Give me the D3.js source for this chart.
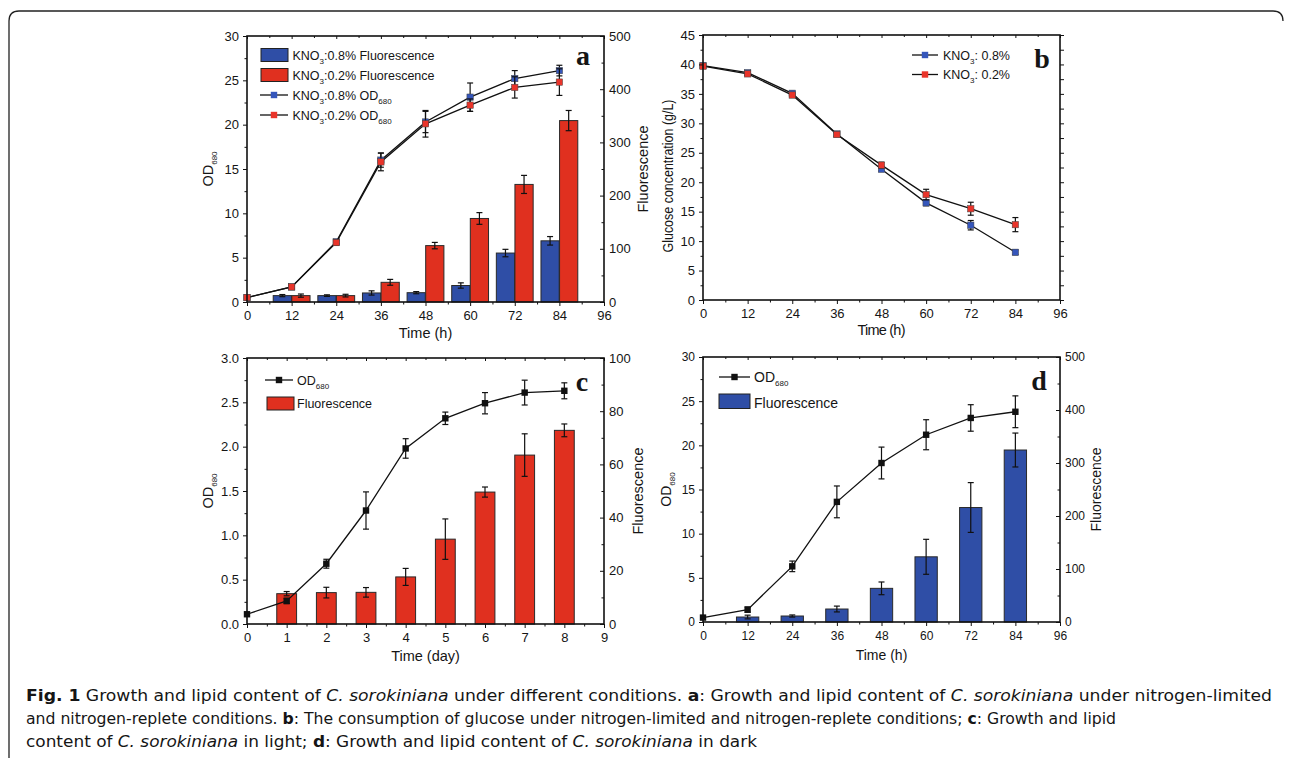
<!DOCTYPE html>
<html>
<head>
<meta charset="utf-8">
<script src="https://cdn.jsdelivr.net/npm/d3@7"></script>
<style>
  body { margin: 0; background: #fff; }
  svg { display: block; }
  text { font-family: "Liberation Sans", Arial, sans-serif; fill: #151515; }
</style>
</head>
<body>
<div id="fig"></div>
<script>
// ---------- data ----------
const hours = [0, 12, 24, 36, 48, 60, 72, 84];
const barHours = [12, 24, 36, 48, 60, 72, 84];
const days = [0, 1, 2, 3, 4, 5, 6, 7, 8];
const barDays = [1, 2, 3, 4, 5, 6, 7, 8];

// panel a: KNO3 0.8% / 0.2%
const odHigh = [0.5, 1.7, 6.8, 16.0, 20.3, 23.1, 25.2, 26.1];
const odHighErr = [0.1, 0.2, 0.2, 0.8, 1.2, 1.6, 0.9, 0.6];
const odLow = [0.5, 1.7, 6.7, 15.8, 20.1, 22.2, 24.2, 24.8];
const odLowErr = [0.1, 0.2, 0.3, 1.0, 1.5, 0.7, 1.2, 1.5];
const fluoHigh = [12, 12, 17, 17.5, 31, 92, 115];
const fluoHighErr = [2, 1.5, 4, 2, 5, 7, 8];
const fluoLow = [12, 12, 37, 106, 157, 221, 341];
const fluoLowErr = [3, 2.5, 5.5, 6, 11, 17, 19];

// panel b: glucose
const glucoseHigh = [39.8, 38.6, 35.1, 28.2, 22.2, 16.5, 12.7, 8.1];
const glucoseHighErr = [0.3, 0.3, 0.3, 0.3, 0.3, 0.5, 0.8, 0.4];
const glucoseLow = [39.7, 38.4, 34.8, 28.1, 22.9, 17.9, 15.5, 12.8];
const glucoseLowErr = [0.3, 0.3, 0.3, 0.3, 0.5, 0.9, 1.1, 1.2];

// panel c: light
const odLight = [0.11, 0.26, 0.68, 1.28, 1.98, 2.32, 2.49, 2.61, 2.63];
const odLightErr = [0.01, 0.03, 0.05, 0.21, 0.11, 0.07, 0.12, 0.14, 0.09];
const fluoLight = [11.4, 11.8, 11.9, 17.7, 31.9, 49.6, 63.5, 72.8];
const fluoLightErr = [0.8, 2, 1.8, 3.2, 7.6, 1.9, 8, 2.4];

// panel d: dark
const odDark = [0.5, 1.4, 6.3, 13.6, 18.0, 21.2, 23.1, 23.8];
const odDarkErr = [0.1, 0.3, 0.6, 1.8, 1.8, 1.7, 1.5, 1.8];
const fluoDark = [9.4, 11.3, 24.5, 63.5, 123, 216, 324.5];
const fluoDarkErr = [3.5, 2, 5.5, 12, 33, 47, 32];

const BLUE = "#2f4ea6", RED = "#e0301f";
const BLUE_PT = "#3556bb", RED_PT = "#e9342a";

const svg = d3.select("#fig").append("svg").attr("width", 1290).attr("height", 760);
svg.append("rect").attr("width", 1290).attr("height", 760).attr("fill", "#fff");

// outer frame (top + left with rounded corners)
svg.append("path")
  .attr("d", "M9,758 V21 Q9,11 19,11 H1273 Q1283,11 1283,21")
  .attr("fill", "none").attr("stroke", "#222").attr("stroke-width", 1.3);

function styleAxis(sel) {
  sel.select(".domain").remove();
  sel.selectAll(".tick line").attr("stroke", "#111").attr("stroke-width", 1);
  return sel;
}

function panel(p) {
  const g = svg.append("g").attr("transform", `translate(${p.left},${p.top})`);
  const w = p.right - p.left, h = p.bottom - p.top;
  const x = d3.scaleLinear().domain(p.xDomain).range([0, w]);
  const yL = d3.scaleLinear().domain(p.yL).range([h, 0]);
  const yR = p.yR ? d3.scaleLinear().domain(p.yR).range([h, 0]) : null;
  const fs = p.fontSize;

  // bars
  (p.bars || []).forEach(b => {
    g.append("g").selectAll("rect").data(b.t).join("rect")
      .attr("x", (d) => x(d + b.offset - b.width / 2))
      .attr("width", x(b.width) - x(0))
      .attr("y", (d, i) => yR(b.v[i]))
      .attr("height", (d, i) => h - yR(b.v[i]))
      .attr("fill", b.fill).attr("stroke", "#2a2a2a").attr("stroke-width", 1);
    const eg = g.append("g").attr("stroke", "#111").attr("stroke-width", 1.2);
    b.t.forEach((t, i) => {
      const cx = x(t + b.offset), y1 = yR(b.v[i] - b.e[i]), y2 = yR(b.v[i] + b.e[i]);
      eg.append("line").attr("x1", cx).attr("x2", cx).attr("y1", y1).attr("y2", y2);
      eg.append("line").attr("x1", cx - 3).attr("x2", cx + 3).attr("y1", y1).attr("y2", y1);
      eg.append("line").attr("x1", cx - 3).attr("x2", cx + 3).attr("y1", y2).attr("y2", y2);
    });
  });

  // lines
  (p.lines || []).forEach(l => {
    const pts = l.t.map((t, i) => [x(t), yL(l.v[i])]);
    g.append("path").attr("d", d3.line()(pts))
      .attr("fill", "none").attr("stroke", "#111").attr("stroke-width", 1.3);
    const eg = g.append("g").attr("stroke", "#111").attr("stroke-width", 1.2);
    l.t.forEach((t, i) => {
      const cx = x(t), y1 = yL(l.v[i] - l.e[i]), y2 = yL(l.v[i] + l.e[i]);
      if (y1 - y2 < 2) return;
      eg.append("line").attr("x1", cx).attr("x2", cx).attr("y1", y1).attr("y2", y2);
      eg.append("line").attr("x1", cx - 3).attr("x2", cx + 3).attr("y1", y1).attr("y2", y1);
      eg.append("line").attr("x1", cx - 3).attr("x2", cx + 3).attr("y1", y2).attr("y2", y2);
    });
    g.append("g").selectAll("rect").data(pts).join("rect")
      .attr("x", d => d[0] - 3.2).attr("y", d => d[1] - 3.2)
      .attr("width", 6.4).attr("height", 6.4)
      .attr("fill", l.color).attr("stroke", l.color === "#111" ? "none" : "#444").attr("stroke-width", 0.5);
  });

  // axes
  const xMajor = d3.range(p.xDomain[0], p.xDomain[1] + 1e-9, p.xStep);
  const xMinor = d3.range(p.xDomain[0], p.xDomain[1] + 1e-9, p.xStep / 2).filter(v => !xMajor.includes(v));
  const yMajor = d3.range(p.yL[0], p.yL[1] + 1e-9, p.yStep);
  const yMinor = d3.range(p.yL[0], p.yL[1] + 1e-9, p.yStep / 2).filter(v => !yMajor.some(m => Math.abs(m - v) < 1e-9));

  const bottom = g.append("g").attr("transform", `translate(0,${h})`)
    .call(d3.axisBottom(x).tickValues(xMajor).tickSize(4).tickPadding(5).tickFormat(p.xFormat || d3.format("d")));
  styleAxis(bottom).selectAll("text").attr("font-size", fs).attr("fill", "#151515");
  styleAxis(g.append("g").attr("transform", `translate(0,${h})`)
    .call(d3.axisBottom(x).tickValues(xMinor).tickSize(2.5).tickFormat("")));
  styleAxis(g.append("g").call(d3.axisTop(x).tickValues(xMajor).tickSize(-3).tickFormat("")));
  styleAxis(g.append("g").call(d3.axisTop(x).tickValues(xMinor).tickSize(-2).tickFormat("")));

  const left = g.append("g")
    .call(d3.axisLeft(yL).tickValues(yMajor).tickSize(4).tickPadding(4).tickFormat(p.yFormat || d3.format("d")));
  styleAxis(left).selectAll("text").attr("font-size", fs).attr("fill", "#151515");
  styleAxis(g.append("g").call(d3.axisLeft(yL).tickValues(yMinor).tickSize(2.5).tickFormat("")));

  if (yR) {
    const rMajor = d3.range(p.yR[0], p.yR[1] + 1e-9, p.yRStep);
    const rMinor = d3.range(p.yR[0], p.yR[1] + 1e-9, p.yRStep / 2).filter(v => !rMajor.includes(v));
    const right = g.append("g").attr("transform", `translate(${w},0)`)
      .call(d3.axisRight(yR).tickValues(rMajor).tickSize(-4).tickPadding(5).tickFormat(d3.format("d")));
    styleAxis(right).selectAll("text").attr("font-size", fs).attr("fill", "#151515");
    styleAxis(g.append("g").attr("transform", `translate(${w},0)`)
      .call(d3.axisRight(yR).tickValues(rMinor).tickSize(-2.5).tickFormat("")));
  } else {
    const rAll = d3.range(p.yL[0], p.yL[1] + 1e-9, p.yStep / 2);
    styleAxis(g.append("g").attr("transform", `translate(${w},0)`)
      .call(d3.axisRight(yL).tickValues(rAll).tickSize(4).tickFormat("")));
  }

  // box
  g.append("rect").attr("width", w).attr("height", h)
    .attr("fill", "none").attr("stroke", "#111").attr("stroke-width", 1.6);

  // titles
  g.append("text").attr("x", w / 2).attr("y", h + p.xTitleDy).attr("text-anchor", "middle")
    .attr("font-size", p.titleSize).text(p.xTitle)
    .attr("textLength", p.xTitleLen || null);

  const lt = g.append("text")
    .attr("transform", `translate(${p.yTitleX},${p.yTitleY ?? h / 2}) rotate(-90)`)
    .attr("text-anchor", "middle").attr("font-size", p.titleSize);
  if (p.yTitle === "OD") {
    lt.append("tspan").text("OD");
    lt.append("tspan").attr("font-size", 8).attr("dy", 4).text("680");
  } else {
    lt.text(p.yTitle).attr("textLength", p.yTitleLen || null).attr("lengthAdjust", "spacingAndGlyphs");
  }
  if (p.rTitle) {
    g.append("text").attr("transform", `translate(${w + p.rTitleX},${h / 2}) rotate(-90)`)
      .attr("text-anchor", "middle").attr("font-size", p.titleSize).text(p.rTitle);
  }

  // panel letter
  svg.append("text").attr("x", p.letter[1]).attr("y", p.letter[2]).attr("text-anchor", "middle")
    .attr("font-weight", "bold").attr("font-size", 28)
    .style("font-family", "'Liberation Serif', 'Times New Roman', serif").text(p.letter[0]);

  return { g, x, yL, yR };
}

// legend helpers (absolute coordinates)
function legSwatch(x, y, w, h, fill) {
  svg.append("rect").attr("x", x).attr("y", y).attr("width", w).attr("height", h)
    .attr("fill", fill).attr("stroke", "#222").attr("stroke-width", 1);
}
function legLine(x1, x2, y, color) {
  svg.append("line").attr("x1", x1).attr("x2", x2).attr("y1", y).attr("y2", y)
    .attr("stroke", "#111").attr("stroke-width", 1.3);
  const m = (x1 + x2) / 2;
  svg.append("rect").attr("x", m - 3.2).attr("y", y - 3.2).attr("width", 6.4).attr("height", 6.4).attr("fill", color);
}
function legText(x, y, parts, fs) {
  const t = svg.append("text").attr("x", x).attr("y", y).attr("font-size", fs);
  parts.forEach(pt => {
    if (pt.sub) t.append("tspan").attr("font-size", 8).attr("dy", 4).text(pt.sub);
    else t.append("tspan").attr("dy", pt.up ? -4 : 0).text(pt.t);
  });
}

// ---------- panel a ----------
panel({
  left: 247, right: 604, top: 36, bottom: 302, fontSize: 13, titleSize: 14.5,
  xDomain: [0, 96], xStep: 12, yL: [0, 30], yStep: 5, yR: [0, 500], yRStep: 100,
  xTitle: "Time (h)", xTitleDy: 36, yTitle: "OD", yTitleX: -34, rTitle: "Fluorescence", rTitleX: 44,
  letter: ["a", 583, 65],
  bars: [
    { t: barHours, v: fluoHigh, e: fluoHighErr, offset: -2.5, width: 4.9, fill: BLUE },
    { t: barHours, v: fluoLow, e: fluoLowErr, offset: 2.5, width: 4.9, fill: RED }
  ],
  lines: [
    { t: hours, v: odHigh, e: odHighErr, color: BLUE_PT },
    { t: hours, v: odLow, e: odLowErr, color: RED_PT }
  ]
});
legSwatch(261, 48.5, 27, 13, BLUE);
legText(292.5, 59.5, [{ t: "KNO" }, { sub: "3" }, { t: ":0.8% Fluorescence", up: 1 }], 12.5);
legSwatch(261, 68.5, 27, 13, RED);
legText(292.5, 79.5, [{ t: "KNO" }, { sub: "3" }, { t: ":0.2% Fluorescence", up: 1 }], 12.5);
legLine(260, 288, 95, BLUE_PT);
legText(292.5, 99.5, [{ t: "KNO" }, { sub: "3" }, { t: ":0.8% OD", up: 1 }, { sub: "680" }], 12.5);
legLine(260, 288, 115, RED_PT);
legText(292.5, 119.5, [{ t: "KNO" }, { sub: "3" }, { t: ":0.2% OD", up: 1 }, { sub: "680" }], 12.5);

// ---------- panel b ----------
panel({
  left: 703, right: 1060, top: 35, bottom: 300, fontSize: 13, titleSize: 14.5,
  xDomain: [0, 96], xStep: 12, yL: [0, 45], yStep: 5,
  xTitle: "Time (h)", xTitleDy: 35, xTitleLen: 48,
  yTitle: "Glucose concentration (g/L)", yTitleLen: 153, yTitleX: -30, yTitleY: 141,
  letter: ["b", 1042, 68],
  lines: [
    { t: hours, v: glucoseHigh, e: glucoseHighErr, color: BLUE_PT },
    { t: hours, v: glucoseLow, e: glucoseLowErr, color: RED_PT }
  ]
});
legLine(912, 938, 55, BLUE_PT);
legText(943, 59.5, [{ t: "KNO" }, { sub: "3" }, { t: ": 0.8%", up: 1 }], 12.5);
legLine(912, 938, 74.5, RED_PT);
legText(943, 79, [{ t: "KNO" }, { sub: "3" }, { t: ": 0.2%", up: 1 }], 12.5);

// ---------- panel c ----------
panel({
  left: 247, right: 604, top: 358, bottom: 624, fontSize: 13, titleSize: 14.5,
  xDomain: [0, 9], xStep: 1, yL: [0, 3], yStep: 0.5, yR: [0, 100], yRStep: 20,
  yFormat: d3.format(".1f"),
  xTitle: "Time (day)", xTitleDy: 37, yTitle: "OD", yTitleX: -34, rTitle: "Fluorescence", rTitleX: 39,
  letter: ["c", 582, 391],
  bars: [{ t: barDays, v: fluoLight, e: fluoLightErr, offset: 0, width: 0.5, fill: RED }],
  lines: [{ t: days, v: odLight, e: odLightErr, color: "#111" }]
});
legLine(265, 293, 380, "#111");
legText(297, 384.5, [{ t: "OD" }, { sub: "680" }], 12.5);
legSwatch(267, 397, 27, 13, RED);
legText(297, 408, [{ t: "Fluorescence" }], 12.5);

// ---------- panel d ----------
panel({
  left: 703, right: 1060, top: 357, bottom: 622, fontSize: 12, titleSize: 14,
  xDomain: [0, 96], xStep: 12, yL: [0, 30], yStep: 5, yR: [0, 500], yRStep: 100,
  xTitle: "Time (h)", xTitleDy: 38, yTitle: "OD", yTitleX: -32, rTitle: "Fluorescence", rTitleX: 41,
  letter: ["d", 1039, 390],
  bars: [{ t: barHours, v: fluoDark, e: fluoDarkErr, offset: 0, width: 6, fill: BLUE }],
  lines: [{ t: hours, v: odDark, e: odDarkErr, color: "#111" }]
});
legLine(719, 750, 377, "#111");
legText(754, 382, [{ t: "OD" }, { sub: "680" }], 14);
legSwatch(719, 394, 31, 14.5, BLUE);
legText(754, 408, [{ t: "Fluorescence" }], 14);

// ---------- caption ----------
const captionLines = [
  [["Fig. 1", "b"], [" Growth and lipid content of "], ["C. sorokiniana", "i"], [" under different conditions. "],
   ["a", "b"], [": Growth and lipid content of "], ["C. sorokiniana", "i"], [" under nitrogen-limited"]],
  [["and nitrogen-replete conditions. "], ["b", "b"], [": The consumption of glucose under nitrogen-limited and nitrogen-replete conditions; "],
   ["c", "b"], [": Growth and lipid"]],
  [["content of "], ["C. sorokiniana", "i"], [" in light; "], ["d", "b"], [": Growth and lipid content of "],
   ["C. sorokiniana", "i"], [" in dark"]]
];
const captionWidths = [1246, 1090, 731];
captionLines.forEach((line, li) => {
  const t = svg.append("text").attr("x", 26).attr("y", 701 + li * 23)
    .attr("font-size", 16)
    .style("font-family", "'DejaVu Sans Condensed', 'DejaVu Sans', sans-serif")
    .style("font-stretch", "condensed")
    .attr("fill", "#231f20")
    .attr("textLength", captionWidths[li]).attr("lengthAdjust", "spacingAndGlyphs");
  line.forEach(([s, st]) => {
    const sp = t.append("tspan").text(s);
    if (st === "b") sp.attr("font-weight", "bold");
    if (st === "i") sp.attr("font-style", "italic");
  });
});
</script>
</body>
</html>
